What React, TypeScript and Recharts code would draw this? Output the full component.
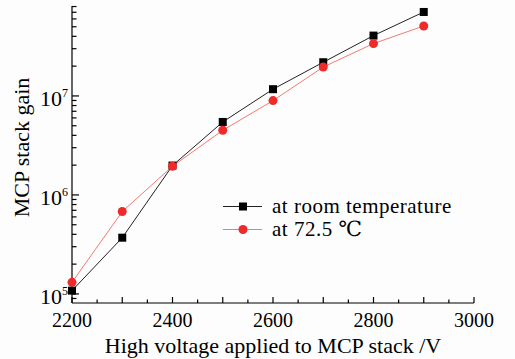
import { Legend, Line, LineChart, XAxis, YAxis } from 'recharts'

const voltages = [2200, 2300, 2400, 2500, 2600, 2700, 2800, 2900]
const gainRoom = [1.08e5, 3.7e5, 1.98e6, 5.46e6, 1.17e7, 2.19e7, 4.07e7, 7.05e7]
const gainHot = [1.31e5, 6.8e5, 1.95e6, 4.5e6, 8.97e6, 1.96e7, 3.38e7, 5.09e7]

const xTicks = [2200, 2250, 2300, 2350, 2400, 2450, 2500, 2550, 2600, 2650, 2700, 2750, 2800, 2850, 2900, 2950, 3000]
const yTicks = [
  9e4,
  1e5, 2e5, 3e5, 4e5, 5e5, 6e5, 7e5, 8e5, 9e5,
  1e6, 2e6, 3e6, 4e6, 5e6, 6e6, 7e6, 8e6, 9e6,
  1e7, 2e7, 3e7, 4e7, 5e7, 6e7, 7e7, 8e7,
]

const seriesNames = ['at room temperature', 'at 72.5 ℃']

const FONT = '"Liberation Serif", "DejaVu Serif", serif'
const RED = '#ee2a2a'
const RED_LINE = '#f27a72'

const data = voltages.map((v, i) => ({ v, room: gainRoom[i], hot: gainHot[i] }))

// ticks drawn inward, like the origin-style plot
function XTick(props: any) {
  const { x, y, payload } = props
  const val = payload.value as number
  const major = val % 100 === 0
  return (
    <g>
      <line x1={x} x2={x} y1={y} y2={y - (major ? 6 : 3.5)} stroke="#000" strokeWidth={1.2} />
      {val % 200 === 0 && (
        <text x={x} y={y + 24} textAnchor="middle" fontFamily={FONT} fontSize={20} fill="#000">
          {val}
        </text>
      )}
    </g>
  )
}

function YTick(props: any) {
  const { x, y, payload } = props
  const val = payload.value as number
  const exp = Math.log10(val)
  const major = Math.abs(exp - Math.round(exp)) < 1e-6
  return (
    <g>
      <line x1={x} x2={x + (major ? 7 : 4.5)} y1={y} y2={y} stroke="#000" strokeWidth={1.2} />
      {major && (
        <text x={x - 4} y={y + 10} textAnchor="end" fontFamily={FONT} fontSize={22} fill="#000">
          10
          <tspan dy={-9} fontSize={12}>
            {Math.round(exp)}
          </tspan>
        </text>
      )}
    </g>
  )
}

function Square(props: any) {
  const { cx, cy } = props
  return <rect key={`sq-${props.index}`} x={cx - 4} y={cy - 4} width={8} height={8} fill="#000" />
}

function YLabel(props: any) {
  const vb = props.viewBox
  const cx = 21
  const cy = vb.y + vb.height / 2 - 7
  return (
    <text
      x={cx}
      y={cy}
      transform={`rotate(-90 ${cx} ${cy})`}
      textAnchor="middle"
      dominantBaseline="central"
      fontFamily={FONT}
      fontSize={22}
      fill="#000"
    >
      MCP stack gain
    </text>
  )
}

function LegendBox() {
  const rows = [
    { name: seriesNames[0], color: '#000', line: '#222', square: true },
    { name: seriesNames[1], color: RED, line: RED_LINE, square: false },
  ]
  return (
    <div style={{ fontFamily: FONT, fontSize: 21, color: '#000', lineHeight: '23px' }}>
      {rows.map((r) => (
        <div key={r.name} style={{ display: 'flex', alignItems: 'center', height: 23 }}>
          <svg width={42} height={23}>
            <line x1={1} x2={40} y1={11.5} y2={11.5} stroke={r.line} strokeWidth={1} />
            {r.square ? (
              <rect x={17} y={7.5} width={8} height={8} fill={r.color} />
            ) : (
              <circle cx={21} cy={11.5} r={4.5} fill={r.color} />
            )}
          </svg>
          <span style={{ marginLeft: 8, letterSpacing: 0.5 }}>{r.name}</span>
        </div>
      ))}
    </div>
  )
}

export default function App() {
  return (
    <div style={{ position: 'absolute', left: 0, top: 0, background: '#fdfdfd' }}>
      <LineChart width={515} height={359} data={data} margin={{ top: 6, right: 41, left: 0, bottom: 0 }}>
        <XAxis
          dataKey="v"
          type="number"
          domain={[2200, 3000]}
          ticks={xTicks}
          interval={0}
          tick={<XTick />}
          tickLine={false}
          tickSize={0}
          tickMargin={0}
          height={56}
          axisLine={{ stroke: '#000', strokeWidth: 1.2 }}
          label={{
            value: 'High voltage applied to MCP stack /V',
            position: 'insideBottom',
            offset: 6,
            fontFamily: FONT,
            fontSize: 22,
            fill: '#000',
          }}
        />
        <YAxis
          scale="log"
          type="number"
          domain={[8.1e4, 8.1e7]}
          ticks={yTicks}
          interval={0}
          allowDataOverflow
          tick={<YTick />}
          tickLine={false}
          tickSize={0}
          tickMargin={0}
          width={72}
          axisLine={{ stroke: '#000', strokeWidth: 1.2 }}
          label={<YLabel />}
        />
        <Legend
          verticalAlign="middle"
          align="center"
          layout="horizontal"
          content={() => <LegendBox />}
          wrapperStyle={{ left: 222, top: 195, width: 270 }}
        />
        <Line
          dataKey="room"
          stroke="#222"
          strokeWidth={1}
          dot={<Square />}
          activeDot={false}
          isAnimationActive={false}
        />
        <Line
          dataKey="hot"
          stroke={RED_LINE}
          strokeWidth={1}
          dot={{ r: 4.5, fill: RED, stroke: RED, strokeWidth: 0 }}
          activeDot={false}
          isAnimationActive={false}
        />
      </LineChart>
    </div>
  )
}
